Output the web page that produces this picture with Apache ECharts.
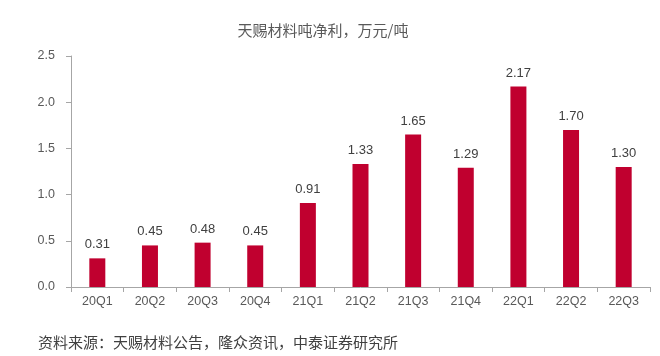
<!DOCTYPE html>
<html><head><meta charset="utf-8">
<script src="https://cdn.jsdelivr.net/npm/echarts@6/dist/echarts.min.js"></script>
<style>html,body{margin:0;padding:0;background:#fff}#c{width:660px;height:356px}</style>
</head><body><div id="c"></div>
<script>
const categories = ['20Q1','20Q2','20Q3','20Q4','21Q1','21Q2','21Q3','21Q4','22Q1','22Q2','22Q3'];
const netProfitPerTon = [0.31,0.45,0.48,0.45,0.91,1.33,1.65,1.29,2.17,1.70,1.30];
const yTicks = [0, 0.5, 1.0, 1.5, 2.0, 2.5];
const titleText = '天赐材料吨净利，万元/吨';
const sourceText = '资料来源：天赐材料公告，隆众资讯，中泰证券研究所';

const chart = echarts.init(document.getElementById('c'), null, {renderer:'canvas'});
const font = '"Liberation Sans", Arial, "Noto Sans CJK SC", sans-serif';
chart.setOption({
  animation:false,
  backgroundColor:'#fff',
  title:{text:titleText,left:318,top:18,textAlign:'center',
    textStyle:{fontSize:15,fontWeight:'normal',color:'#595959',fontFamily:'"Noto Sans CJK SC", sans-serif'}},
  graphic:[{type:'text',left:38,top:335,style:{text:sourceText,fontSize:15,fill:'#404040',
    fontFamily:'"Noto Sans CJK SC", sans-serif'}}],
  grid:{left:71,right:10,top:56,bottom:69,containLabel:false},
  xAxis:{type:'category',data:categories,
    axisLine:{lineStyle:{color:'#a6a6a6'}},
    axisTick:{show:true,alignWithLabel:false,length:5,lineStyle:{color:'#a6a6a6'}},
    axisLabel:{margin:8,fontSize:12.5,color:'#595959',fontFamily:font}},
  yAxis:{type:'value',min:yTicks[0],max:yTicks[yTicks.length-1],interval:0.5,
    axisLine:{show:true,lineStyle:{color:'#a6a6a6'}},
    axisTick:{show:true,length:5,lineStyle:{color:'#a6a6a6'}},
    splitLine:{show:false},
    axisLabel:{margin:16,fontSize:12.5,color:'#595959',fontFamily:font,
      formatter:v=>v.toFixed(1)}},
  series:[{type:'bar',data:netProfitPerTon,barWidth:16,
    itemStyle:{color:'#C0002F'},
    label:{show:true,position:'top',distance:7,fontSize:13,color:'#404040',fontFamily:font,
      formatter:p=>p.value.toFixed(2)}}]
});
</script></body></html>
